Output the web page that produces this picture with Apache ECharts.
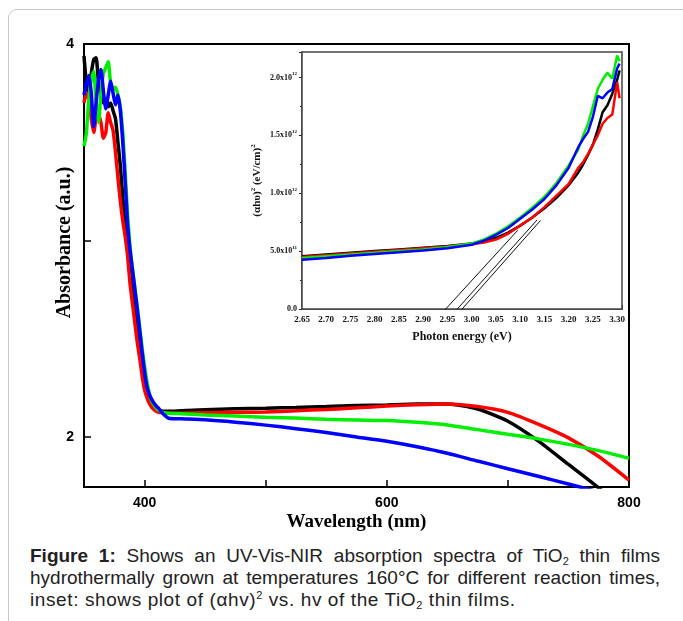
<!DOCTYPE html>
<html>
<head>
<meta charset="utf-8">
<title>TiO2 UV-Vis-NIR</title>
<script src="https://cdn.jsdelivr.net/npm/echarts@6/dist/echarts.min.js"></script>
<style>
  html, body { margin: 0; padding: 0; background: #fff; }
  body { width: 683px; height: 621px; position: relative; overflow: hidden; }
  .frame { position: absolute; left: 8px; top: 9px; width: 720px; height: 660px; border: 1px solid #c8c8c8; border-radius: 9px; }
  .chart { position: absolute; left: 0; top: 0; width: 683px; height: 540px; }
  .caption { position: absolute; left: 30px; top: 545px; width: 630px; font-family: "Liberation Sans", Arial, sans-serif; font-size: 19px; line-height: 22px; color: #222; }
  .caption div { white-space: nowrap; }
  .caption .j { text-align: justify; text-align-last: justify; }
  .caption .last { letter-spacing: 0.6px; }
  .caption sub { font-size: 11px; vertical-align: -3px; line-height: 0; }
  .caption sup { font-size: 11px; vertical-align: 7px; line-height: 0; }
</style>
</head>
<body>
<div class="frame"></div>
<div class="chart" id="chart"></div>
<div class="caption">
  <div class="j"><b>Figure 1:</b> Shows an UV-Vis-NIR absorption spectra of TiO<sub>2</sub> thin films</div>
  <div class="j">hydrothermally grown at temperatures 160°C for different reaction times,</div>
  <div class="last">inset: shows plot of (αhv)<sup>2</sup> vs. hv of the TiO<sub>2</sub> thin films.</div>
</div>
<script>
// 主图：波长 (nm)
var wavelength = [350, 352, 354, 356, 358, 360, 362, 364, 366, 368, 370, 372, 374, 376, 378, 380,
  382, 384, 386, 388, 390, 392, 394, 396, 398, 400, 402, 404, 406, 408, 410, 412,
  415, 420, 430, 450, 475, 500, 525, 550, 575, 600, 625, 650, 675, 700, 725, 750, 775, 800];
var absBlack = [3.94, 3.80, 3.75, 3.85, 3.92, 3.93, 3.80, 3.75, 3.70, 3.72, 3.68, 3.70, 3.66, 3.62, 3.50, 3.38,
  3.22, 3.08, 2.97, 2.85, 2.75, 2.65, 2.55, 2.46, 2.37, 2.29, 2.23, 2.19, 2.165, 2.15, 2.14, 2.135,
  2.13, 2.13, 2.133, 2.138, 2.143, 2.146, 2.15, 2.155, 2.16, 2.163, 2.167, 2.168, 2.142, 2.08, 1.98, 1.86, 1.74, 1.60];
var absRed = [3.70, 3.75, 3.72, 3.62, 3.55, 3.62, 3.64, 3.60, 3.52, 3.55, 3.65, 3.60, 3.56, 3.45, 3.32, 3.20,
  3.10, 3.02, 2.92, 2.78, 2.68, 2.58, 2.48, 2.40, 2.31, 2.24, 2.20, 2.17, 2.15, 2.138, 2.13, 2.125,
  2.122, 2.12, 2.121, 2.123, 2.125, 2.127, 2.133, 2.14, 2.148, 2.157, 2.164, 2.168, 2.155, 2.125, 2.065, 1.995, 1.90, 1.78];
var absGreen = [3.48, 3.55, 3.72, 3.82, 3.86, 3.70, 3.60, 3.75, 3.85, 3.88, 3.91, 3.80, 3.77, 3.78, 3.74, 3.68,
  3.55, 3.35, 3.13, 2.97, 2.86, 2.76, 2.66, 2.56, 2.45, 2.36, 2.28, 2.22, 2.18, 2.16, 2.145, 2.135,
  2.125, 2.12, 2.118, 2.112, 2.106, 2.10, 2.096, 2.09, 2.086, 2.083, 2.074, 2.061, 2.037, 2.013, 1.99, 1.962, 1.93, 1.891];
var absBlue = [3.74, 3.80, 3.84, 3.75, 3.58, 3.70, 3.82, 3.87, 3.76, 3.67, 3.74, 3.81, 3.75, 3.69, 3.74, 3.66,
  3.50, 3.30, 3.08, 2.95, 2.85, 2.75, 2.65, 2.54, 2.43, 2.33, 2.255, 2.215, 2.19, 2.17, 2.155, 2.143,
  2.12, 2.095, 2.092, 2.087, 2.075, 2.06, 2.042, 2.022, 2.0, 1.978, 1.95, 1.917, 1.877, 1.838, 1.80, 1.76, 1.72, 1.68];
var mainXTicks = [400, 500, 600, 700, 800];
var mainXLabels = [400, 600, 800];
var mainYTicks = [2, 3, 4];
var mainYLabels = [2, 4];

// 插图：光子能量 (eV)，纵坐标单位 10^12 (eV/cm)^2
var energy = [2.65, 2.70, 2.75, 2.80, 2.85, 2.90, 2.95, 3.00, 3.025, 3.05, 3.075, 3.10, 3.125,
  3.15, 3.175, 3.20, 3.22, 3.23, 3.24, 3.25, 3.26, 3.27, 3.28, 3.29, 3.30, 3.305];
var taucBlack = [0.455, 0.47, 0.485, 0.50, 0.515, 0.53, 0.545, 0.565, 0.585, 0.615, 0.66, 0.72, 0.79,
  0.87, 0.96, 1.07, 1.18, 1.25, 1.33, 1.42, 1.55, 1.70, 1.76, 1.86, 1.98, 2.06];
var taucRed = [0.45, 0.465, 0.48, 0.495, 0.51, 0.525, 0.54, 0.56, 0.575, 0.60, 0.65, 0.72, 0.79,
  0.88, 0.98, 1.08, 1.22, 1.27, 1.34, 1.42, 1.50, 1.60, 1.65, 1.68, 1.96, 1.82];
var taucGreen = [0.44, 0.455, 0.47, 0.485, 0.50, 0.515, 0.535, 0.565, 0.60, 0.65, 0.715, 0.79, 0.875,
  0.97, 1.09, 1.24, 1.38, 1.50, 1.60, 1.75, 1.90, 1.98, 2.04, 1.99, 2.19, 2.14];
var taucBlue = [0.425, 0.44, 0.46, 0.475, 0.49, 0.505, 0.525, 0.555, 0.59, 0.64, 0.70, 0.78, 0.86,
  0.95, 1.07, 1.22, 1.40, 1.47, 1.53, 1.66, 1.84, 1.82, 1.87, 1.90, 2.08, 2.12];
// 外推切线 [能量, 值]
var tangentA = [[2.942, -0.02], [3.095, 0.68]];
var tangentB = [[2.966, -0.02], [3.135, 0.77]];
var tangentC = [[2.976, -0.02], [3.142, 0.765]];
var insetYValues = [0, 0.5, 1, 1.5, 2];
var insetYMantissa = ['0.0', '5.0x10', '1.0x10', '1.5x10', '2.0x10'];
var insetYExp = ['', '11', '12', '12', '12'];

(function () {
  var myChart = echarts.init(document.getElementById('chart'));

  function pairs(xs, ys) {
    return xs.map(function (x, i) { return [x, ys[i]]; });
  }
  var serif = '"Liberation Serif", "Times New Roman", serif';
  var sans = '"Liberation Sans", Arial, sans-serif';

  function mainLine(name, color, ys) {
    return {
      name: name, type: 'line', xAxisIndex: 0, yAxisIndex: 0,
      data: pairs(wavelength, ys), showSymbol: false, smooth: 0.2,
      lineStyle: { color: color, width: 3.5 }
    };
  }
  function insetLine(name, color, ys) {
    return {
      name: name, type: 'line', xAxisIndex: 1, yAxisIndex: 1,
      data: pairs(energy, ys), showSymbol: false,
      lineStyle: { color: color, width: 2.5 }
    };
  }
  function tangent(pts) {
    return {
      type: 'line', xAxisIndex: 1, yAxisIndex: 1, data: pts, showSymbol: false,
      lineStyle: { color: '#111', width: 1 }, z: 5
    };
  }

  var option = {
    animation: false,
    grid: [
      { left: 84, top: 44, width: 545, height: 443, show: true, borderColor: '#000', borderWidth: 2, outerBoundsMode: 'none' },
      { left: 302, top: 52, width: 320, height: 257, show: true, backgroundColor: '#fff', borderColor: '#444', borderWidth: 1.5, outerBoundsMode: 'none', z: 3 }
    ],
    xAxis: [
      {
        type: 'value', gridIndex: 0, min: 350, max: 800,
        splitLine: { show: false },
        axisLine: { lineStyle: { color: '#000', width: 2 } },
        axisTick: { inside: true, length: 7, customValues: mainXTicks, lineStyle: { color: '#000', width: 1.5 } },
        axisLabel: { customValues: mainXLabels, margin: 9, color: '#000', fontFamily: sans, fontWeight: 'bold', fontSize: 14 },
        name: 'Wavelength (nm)', nameLocation: 'middle', nameGap: 26, nameMoveOverlap: false,
        nameTextStyle: { fontFamily: serif, fontWeight: 'bold', fontSize: 19, color: '#000' }
      },
      {
        type: 'value', gridIndex: 1, min: 2.65, max: 3.31, interval: 0.05,
        splitLine: { show: false },
        axisLine: { lineStyle: { color: '#222', width: 1.5 } },
        axisTick: { inside: true, length: 4, lineStyle: { color: '#222' } },
        minorTick: { show: true, splitNumber: 2, length: 2, lineStyle: { color: '#222' } },
        axisLabel: {
          margin: 6, showMaxLabel: false, color: '#111', fontFamily: serif, fontWeight: 'bold', fontSize: 9,
          formatter: function (v) { return v.toFixed(2); }
        },
        name: 'Photon energy (eV)', nameLocation: 'middle', nameGap: 22, nameMoveOverlap: false,
        nameTextStyle: { fontFamily: serif, fontWeight: 'bold', fontSize: 12, color: '#111' }
      }
    ],
    yAxis: [
      {
        type: 'value', gridIndex: 0, min: 1.745, max: 4,
        splitLine: { show: false },
        axisLine: { lineStyle: { color: '#000', width: 2 } },
        axisTick: { inside: true, length: 7, customValues: mainYTicks, lineStyle: { color: '#000', width: 1.5 } },
        axisLabel: { customValues: mainYLabels, margin: 10, color: '#000', fontFamily: sans, fontWeight: 'bold', fontSize: 14 },
        name: 'Absorbance (a.u.)', nameLocation: 'middle', nameGap: 9, nameMoveOverlap: false,
        nameTextStyle: { fontFamily: serif, fontWeight: 'bold', fontSize: 20, color: '#000', padding: [0, 0, 0, 46] }
      },
      {
        type: 'value', gridIndex: 1, min: 0, max: 2.22, interval: 0.5,
        splitLine: { show: false },
        axisLine: { lineStyle: { color: '#222', width: 1.5 } },
        axisTick: { inside: false, length: 3, lineStyle: { color: '#222' } },
        minorTick: { show: true, splitNumber: 2, length: 2, lineStyle: { color: '#222' } },
        axisLabel: {
          margin: 5, showMaxLabel: false,
          formatter: function (v) {
            for (var i = 0; i < insetYValues.length; i++) {
              if (Math.abs(insetYValues[i] - v) < 1e-6) {
                return insetYExp[i] ? '{a|' + insetYMantissa[i] + '}{s|' + insetYExp[i] + '}' : '{a|' + insetYMantissa[i] + '}';
              }
            }
            return '';
          },
          rich: {
            a: { fontFamily: serif, fontWeight: 'bold', fontSize: 8, color: '#111', lineHeight: 12 },
            s: { fontFamily: serif, fontWeight: 'bold', fontSize: 5, color: '#111', verticalAlign: 'top', lineHeight: 12 }
          }
        },
        name: '{t|(αhυ)}{s|2}{t| (eV/cm)}{s|2}', nameLocation: 'middle', nameGap: 38, nameMoveOverlap: false,
        nameTextStyle: {
          rich: {
            t: { fontFamily: serif, fontWeight: 'bold', fontSize: 11, color: '#111', lineHeight: 14 },
            s: { fontFamily: serif, fontWeight: 'bold', fontSize: 7, color: '#111', verticalAlign: 'top', lineHeight: 14 }
          }
        }
      }
    ],
    series: [
      mainLine('black', '#000000', absBlack),
      mainLine('red', '#ff0000', absRed),
      mainLine('green', '#00ee00', absGreen),
      mainLine('blue', '#0000ff', absBlue),
      insetLine('black', '#000000', taucBlack),
      insetLine('red', '#ff0000', taucRed),
      insetLine('green', '#00ee00', taucGreen),
      insetLine('blue', '#0000ff', taucBlue),
      tangent(tangentA),
      tangent(tangentB),
      tangent(tangentC)
    ]
  };
  myChart.setOption(option);
  window.addEventListener('resize', function () {
    myChart.resize();
  });
})();
</script>
</body>
</html>
